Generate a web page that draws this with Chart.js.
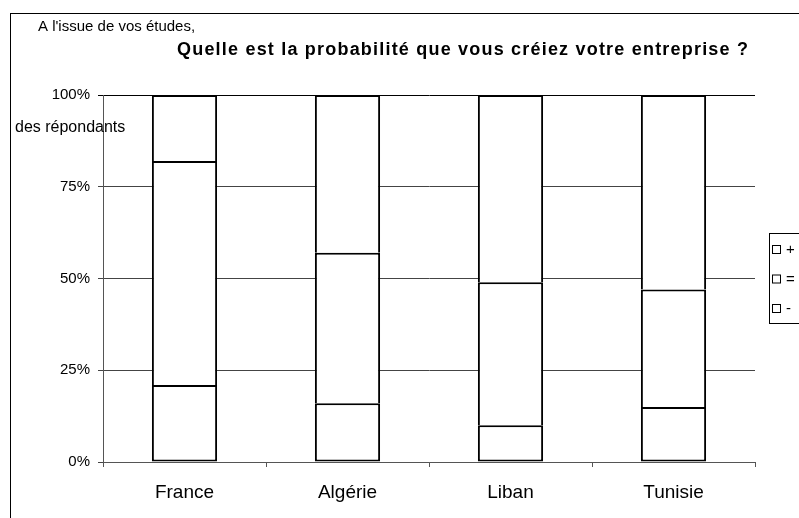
<!DOCTYPE html>
<html>
<head>
<meta charset="utf-8">
<script src="https://cdn.jsdelivr.net/npm/chart.js@4/dist/chart.umd.min.js"></script>
<style>
  body { margin: 0; background: #fff; }
  canvas { display: block; }
</style>
</head>
<body>
<canvas id="chart" width="799" height="518"></canvas>
<script>
// data (percent of respondents)
const countries = ['France', 'Algérie', 'Liban', 'Tunisie'];
const seriesNames = ['-', '=', '+'];
const lowValues = [21, 16, 10, 15];
const midValues = [61, 41, 39, 32];
const highValues = [18, 43, 51, 53];
const yTicks = [0, 25, 50, 75, 100];

const subTitle = "A l'issue de vos études,";
const mainTitle = "Quelle est la probabilité que vous créiez votre entreprise ?";
const yUnit = "des répondants";

const FONT = "'Liberation Sans', Arial, sans-serif";

// only the lowest segment draws a bottom edge, so shared edges stay single
function barSet(label, data, isBottom) {
    return {
        label: label,
        data: data,
        backgroundColor: '#ffffff',
        borderColor: '#000000',
        borderWidth: { top: 2, left: 2, right: 2, bottom: isBottom ? 2 : 0 },
        borderSkipped: false,
        categoryPercentage: 1,
        barPercentage: 0.4
    };
}

// frame, titles and the right-hand legend
const decorations = {
    id: 'decorations',
    afterDraw(chart) {
        const ctx = chart.ctx;
        ctx.save();
        ctx.strokeStyle = '#000';
        ctx.lineWidth = 1;
        ctx.strokeRect(10.5, 13.5, 820, 530);

        ctx.fillStyle = '#000';
        ctx.textBaseline = 'alphabetic';
        ctx.textAlign = 'left';
        ctx.font = '15px ' + FONT;
        ctx.fillText(subTitle, 38, 31);

        ctx.font = 'bold 18px ' + FONT;
        ctx.letterSpacing = '1.2px';
        ctx.fillText(mainTitle, 177, 55);
        ctx.letterSpacing = '0px';

        ctx.font = '16px ' + FONT;
        ctx.fillText(yUnit, 15, 132);

        // legend box
        ctx.strokeRect(769.5, 233.5, 60, 90);
        const sets = chart.data.datasets.slice().reverse();
        ctx.font = '15px ' + FONT;
        ctx.textBaseline = 'middle';
        sets.forEach((ds, i) => {
            const y = 250 + i * 29.5;
            ctx.strokeRect(772.5, y - 4.5, 8, 8);
            ctx.fillText(ds.label, 786, y);
        });
        ctx.restore();
    }
};

new Chart(document.getElementById('chart'), {
    type: 'bar',
    data: {
        labels: countries,
        datasets: [
            barSet(seriesNames[0], lowValues, true),
            barSet(seriesNames[1], midValues, false),
            barSet(seriesNames[2], highValues, false)
        ]
    },
    options: {
        responsive: false,
        animation: false,
        layout: { padding: { top: 95, right: 44, left: 0, bottom: 0 } },
        plugins: {
            legend: { display: false },
            tooltip: { enabled: false }
        },
        scales: {
            x: {
                stacked: true,
                afterFit(scale) { scale.height = 56; },
                grid: {
                    offset: true,
                    drawOnChartArea: false,
                    tickLength: 5,
                    color: '#555'
                },
                border: { color: '#555', width: 1 },
                ticks: {
                    color: '#000',
                    padding: 14,
                    font: { family: FONT, size: 19 }
                }
            },
            y: {
                stacked: true,
                min: 0,
                max: 100,
                afterFit(scale) { scale.width = 103; },
                afterBuildTicks(scale) {
                    scale.ticks = yTicks.map(v => ({ value: v }));
                },
                grid: {
                    tickLength: 5,
                    color: ctx => (ctx.tick && ctx.tick.value === 100) ? '#000' : '#444'
                },
                border: { color: '#555', width: 1 },
                ticks: {
                    color: '#000',
                    padding: 8,
                    font: { family: FONT, size: 15 },
                    callback: v => v + '%'
                }
            }
        }
    },
    plugins: [decorations]
});
</script>
</body>
</html>
